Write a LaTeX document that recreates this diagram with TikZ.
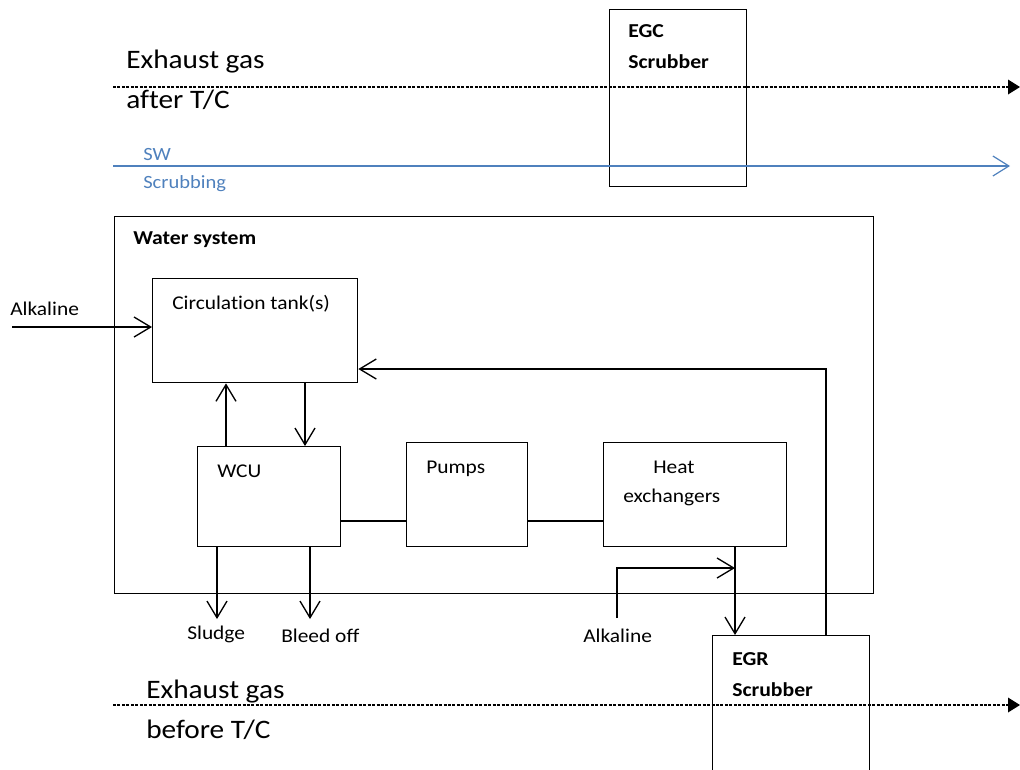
\documentclass[tikz,border=0pt]{standalone}
\usepackage{fontspec}
\setmainfont[FakeStretch=1.1, Ligatures={NoCommon}]{Carlito}
\usetikzlibrary{arrows.meta}
\definecolor{swblue}{HTML}{4F81BD}
\begin{document}
\begin{tikzpicture}[x=0.75pt,y=-0.75pt,
  box/.style={draw, line width=1pt, inner sep=0, anchor=north west},
  big/.style={font=\fontsize{20}{24}\selectfont, anchor=base west, inner sep=0},
  small/.style={font=\fontsize{14.6}{17}\selectfont, anchor=base west, inner sep=0},
  bsmall/.style={font=\fontsize{14.8}{17}\selectfont\bfseries, anchor=base west, inner sep=0},
  flow/.style={line width=1pt, -{Straight Barb[length=12.5pt,width=15pt]}},
  link/.style={line width=1pt},
  gas/.style={line width=1pt, dash pattern=on 2.25pt off 1.1pt, -{Triangle[length=9pt,width=11pt]}},
  sw/.style={line width=0.9pt, swblue, -{Straight Barb[length=12pt,width=15pt]}},
  ]
\useasboundingbox (0,0) rectangle (1020,769);

% boxes
\node[box, minimum width=102.75pt, minimum height=132.75pt] (egc) at (609,9) {};
\node[box, minimum width=569.25pt, minimum height=282.75pt] (water) at (114,216) {};
\node[box, minimum width=153.75pt, minimum height=78pt] (tank) at (152,278) {};
\node[box, minimum width=107.25pt, minimum height=75pt] (wcu) at (197,446) {};
\node[box, minimum width=90.75pt, minimum height=78pt] (pumps) at (406,442) {};
\node[box, minimum width=137.25pt, minimum height=78pt] (hx) at (603,442) {};
\node[box, minimum width=117.75pt, minimum height=120pt] (egr) at (712,635) {};

% texts
\node[big] (t1) at (126,68) {Exhaust gas};
\node[big] (t2) at (126,108) {after T/C};
\node[small, swblue, font=\fontsize{14}{17}\selectfont] (t3) at (143,160) {SW};
\node[small, swblue, font=\fontsize{14}{17}\selectfont] (t4) at (143,188) {Scrubbing};
\node[bsmall] (t5) at (628,37) {EGC};
\node[bsmall] (t6) at (628,68) {Scrubber};
\node[bsmall] (t7) at (133,244) {Water system};
\node[small] (t8) at (172,309) {Circulation tank(s)};
\node[small] (t9) at (10,315) {Alkaline};
\node[small] (t10) at (217,477) {WCU};
\node[small] (t11) at (426,473) {Pumps};
\node[small] (t12) at (653,473) {Heat};
\node[small] (t13) at (623,502) {exchangers};
\node[small] (t14) at (187,639) {Sludge};
\node[small] (t15) at (281,642) {Bleed off};
\node[small] (t16) at (583,642) {Alkaline};
\node[bsmall] (t17) at (732,665) {EGR};
\node[bsmall] (t18) at (732,696) {Scrubber};
\node[big] (t19) at (146,698) {Exhaust gas};
\node[big] (t20) at (146,738) {before T/C};

% coordinates
\coordinate (g1s) at (113,87);
\coordinate (g1e) at (1020,87);
\coordinate (sws) at (113,166);
\coordinate (swe) at (1010,166);
\coordinate (g2s) at (113,705);
\coordinate (g2e) at (1020,705);
\coordinate (alkin) at (12,327);
\coordinate (ret) at (826,369);
\coordinate (upx) at (226,0);
\coordinate (dnx) at (305,0);
\coordinate (lk) at (0,521);
\coordinate (sl) at (217,619);
\coordinate (bl) at (310,619);
\coordinate (hxd) at (735,568);
\coordinate (alk2) at (617,618);

% connectors
\draw[gas] (g1s) -- (g1e);
\draw[sw] (sws) -- (swe);
\draw[gas] (g2s) -- (g2e);
\draw[flow] (alkin) -- (alkin -| tank.west);
\draw[flow] (ret |- egr.north) -- (ret) -- (ret -| tank.east);
\draw[flow] (upx |- wcu.north) -- (upx |- tank.south);
\draw[flow] (dnx |- tank.south) -- (dnx |- wcu.north);
\draw[link] (wcu.east |- lk) -- (pumps.west |- lk);
\draw[link] (pumps.east |- lk) -- (hx.west |- lk);
\draw[flow] (sl |- wcu.south) -- (sl);
\draw[flow] (bl |- wcu.south) -- (bl);
\draw[flow] (hxd |- hx.south) -- (hxd |- egr.north);
\draw[flow] (alk2) |- (hxd);
\end{tikzpicture}
\end{document}
